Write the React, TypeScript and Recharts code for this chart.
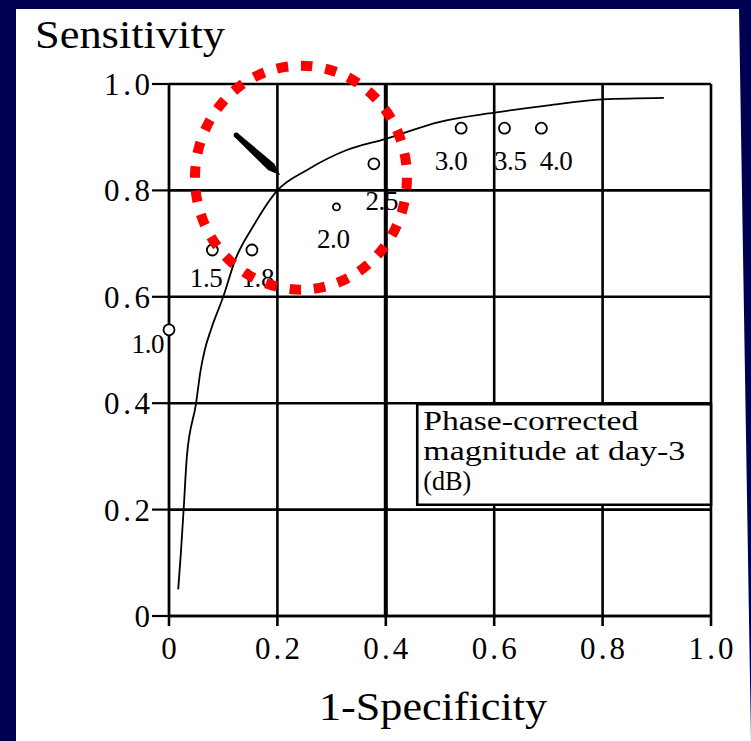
import React from "react";
import {
  ComposedChart,
  Line,
  Scatter,
  XAxis,
  YAxis,
  CartesianGrid,
  ReferenceLine,
  ReferenceArea,
  ReferenceDot
} from "recharts";

const serif = "'Liberation Serif', 'Times New Roman', Times, serif";

const axisTicks = [0, 0.2, 0.4, 0.6, 0.8, 1.0];

// ROC curve
const curveFpr = [0.017, 0.022, 0.027, 0.033, 0.05, 0.058, 0.066, 0.078, 0.1, 0.122, 0.155, 0.2, 0.254, 0.328, 0.4, 0.5, 0.6, 0.7, 0.8, 0.913];
const curveSens = [0.05, 0.12, 0.2, 0.3, 0.4, 0.46, 0.5, 0.54, 0.6, 0.669, 0.732, 0.8, 0.838, 0.876, 0.897, 0.929, 0.946, 0.96, 0.971, 0.974];

// threshold points (dB)
const thresholdLabels = ["1.0", "1.5", "1.8", "2.0", "2.5", "3.0", "3.5", "4.0"];
const pointFpr = [0.0, 0.08, 0.153, 0.309, 0.378, 0.539, 0.619, 0.687];
const pointSens = [0.538, 0.688, 0.688, 0.769, 0.85, 0.917, 0.917, 0.917];

const legendLines = ["Phase-corrected", "magnitude at day-3", "(dB)"];

const curveData = curveFpr.map((x, i) => ({ x, y: curveSens[i] }));
const pointData = pointFpr.map((x, i) => ({ x, y: pointSens[i], label: thresholdLabels[i] }));

// where each threshold label sits relative to its circle (px)
const labelOffset: Record<string, [number, number]> = {
  "1.0": [-21, 14],
  "1.5": [-6, 28],
  "1.8": [6, 28],
  "2.0": [-3, 32],
  "2.5": [8, 37],
  "3.0": [-10, 33],
  "3.5": [6, 33],
  "4.0": [15, 33]
};

const fmt = (v: number) => (v === 0 ? "0" : v.toFixed(1));

const XTick = (props: any) => {
  const { x, y, payload } = props;
  const s = fmt(payload.value);
  const extra: any = s.length > 1 ? { textLength: 45, lengthAdjust: "spacing" } : {};
  return (
    <text x={x} y={y} dy="0.71em" textAnchor="middle" fontFamily={serif} fontSize={31} fill="#000" {...extra}>
      {s}
    </text>
  );
};

const YTick = (props: any) => {
  const { x, y, payload } = props;
  const s = fmt(payload.value);
  const extra: any = s.length > 1 ? { textLength: 46, lengthAdjust: "spacing" } : {};
  return (
    <text x={x} y={y} dy="0.355em" textAnchor="end" fontFamily={serif} fontSize={31} fill="#000" {...extra}>
      {s}
    </text>
  );
};

const PointShape = (props: any) => {
  const { cx, cy, payload } = props;
  if (cx == null || cy == null) return null;
  const small = payload.label === "2.0";
  const [dx, dy] = labelOffset[payload.label] || [0, 30];
  return (
    <g>
      <circle cx={cx} cy={cy} r={small ? 3.5 : 5.5} fill="#fff" stroke="#000" strokeWidth={1.8} />
      <text
        x={cx + dx}
        y={cy + dy + 9}
        textAnchor="middle"
        fontFamily={serif}
        fontSize={27}
        fill="#000"
        textLength={33}
        lengthAdjust="spacing"
      >
        {payload.label}
      </text>
    </g>
  );
};

const ArrowShape = (props: any) => {
  const { x1, y1, x2, y2 } = props;
  if ([x1, y1, x2, y2].some((v) => typeof v !== "number")) return null;
  const len = Math.hypot(x2 - x1, y2 - y1);
  const ux = (x2 - x1) / len;
  const uy = (y2 - y1) / len;
  const nx = -uy;
  const ny = ux;
  const bx = x1 + ux * len * 0.8;
  const by = y1 + uy * len * 0.8;
  const pts = [
    [x1 + nx * 2.5, y1 + ny * 2.5],
    [bx + nx * 4.5, by + ny * 4.5],
    [x2, y2],
    [bx - nx * 4.5, by - ny * 4.5],
    [x1 - nx * 2.5, y1 - ny * 2.5]
  ]
    .map((p) => p.join(","))
    .join(" ");
  return (
    <g>
      <polygon points={pts} fill="#000" />
      <circle cx={x1} cy={y1} r={2.6} fill="#000" />
    </g>
  );
};

const RedEllipse = (props: any) => {
  const { cx, cy } = props;
  return (
    <ellipse
      cx={cx}
      cy={cy}
      rx={106}
      ry={112}
      fill="none"
      stroke="#ff0000"
      strokeWidth={10}
      pathLength={280}
      strokeDasharray="4.7 5.3"
    />
  );
};

const LegendText = (props: any) => {
  const { viewBox } = props;
  if (!viewBox) return null;
  const widths = [215, 262, 48];
  return (
    <g>
      {legendLines.map((t, i) => (
        <text
          key={t}
          x={viewBox.x + 6}
          y={viewBox.y + 26 + i * 30}
          fontFamily={serif}
          fontSize={27}
          fill="#000"
          textLength={widths[i]}
          lengthAdjust="spacingAndGlyphs"
        >
          {t}
        </text>
      ))}
    </g>
  );
};

const YLabel = (props: any) => {
  const { viewBox } = props;
  if (!viewBox) return null;
  return (
    <text x={viewBox.x - 74} y={viewBox.y - 36} fontFamily={serif} fontSize={40} fill="#000" textLength={190} lengthAdjust="spacingAndGlyphs">
      Sensitivity
    </text>
  );
};

const XLabel = (props: any) => {
  const { viewBox } = props;
  if (!viewBox) return null;
  return (
    <text
      x={viewBox.x + viewBox.width / 2 - 7}
      y={viewBox.y + 104}
      textAnchor="middle"
      fontFamily={serif}
      fontSize={40}
      fill="#000"
      textLength={228}
      lengthAdjust="spacingAndGlyphs"
    >
      1-Specificity
    </text>
  );
};

export default function App() {
  return (
    <div style={{ position: "absolute", left: 0, top: 0, width: 751, height: 741, background: "#000050", overflow: "hidden" }}>
      <div
        style={{
          position: "absolute",
          inset: 0,
          background: "#fff",
          clipPath: "polygon(16px 9px, 739px 9px, 751px 741px, 16px 741px)"
        }}
      />
      <div style={{ position: "absolute", left: 0, top: 0 }}>
        <ComposedChart width={751} height={741} margin={{ top: 84, right: 40, bottom: 65, left: 109 }}>
          <CartesianGrid stroke="#000" strokeWidth={2.6} />
          <XAxis
            type="number"
            dataKey="x"
            domain={[0, 1]}
            ticks={axisTicks}
            interval={0}
            height={60}
            tickSize={10}
            tickMargin={11}
            stroke="#000"
            strokeWidth={2.6}
            tick={<XTick />}
            label={<XLabel />}
          />
          <YAxis
            type="number"
            dataKey="y"
            domain={[0, 1]}
            ticks={axisTicks}
            interval={0}
            width={60}
            tickSize={17}
            tickMargin={2}
            stroke="#000"
            strokeWidth={2.2}
            tick={<YTick />}
            label={<YLabel />}
          />
          <ReferenceLine x={0.4} stroke="#000" strokeWidth={4} />
          <ReferenceArea
            x1={0.458}
            x2={1}
            y1={0.209}
            y2={0.398}
            fill="#fff"
            fillOpacity={1}
            stroke="#000"
            strokeWidth={2.6}
            label={<LegendText />}
          />
          <Line
            data={curveData}
            dataKey="y"
            type="monotone"
            stroke="#000"
            strokeWidth={1.8}
            dot={false}
            activeDot={false}
            isAnimationActive={false}
          />
          <Scatter data={pointData} dataKey="y" shape={<PointShape />} isAnimationActive={false} />
          <ReferenceLine
            segment={[
              { x: 0.124, y: 0.904 },
              { x: 0.205, y: 0.829 }
            ]}
            shape={<ArrowShape />}
          />
          <ReferenceDot x={0.2435} y={0.824} ifOverflow="visible" shape={<RedEllipse />} />
        </ComposedChart>
      </div>
    </div>
  );
}
